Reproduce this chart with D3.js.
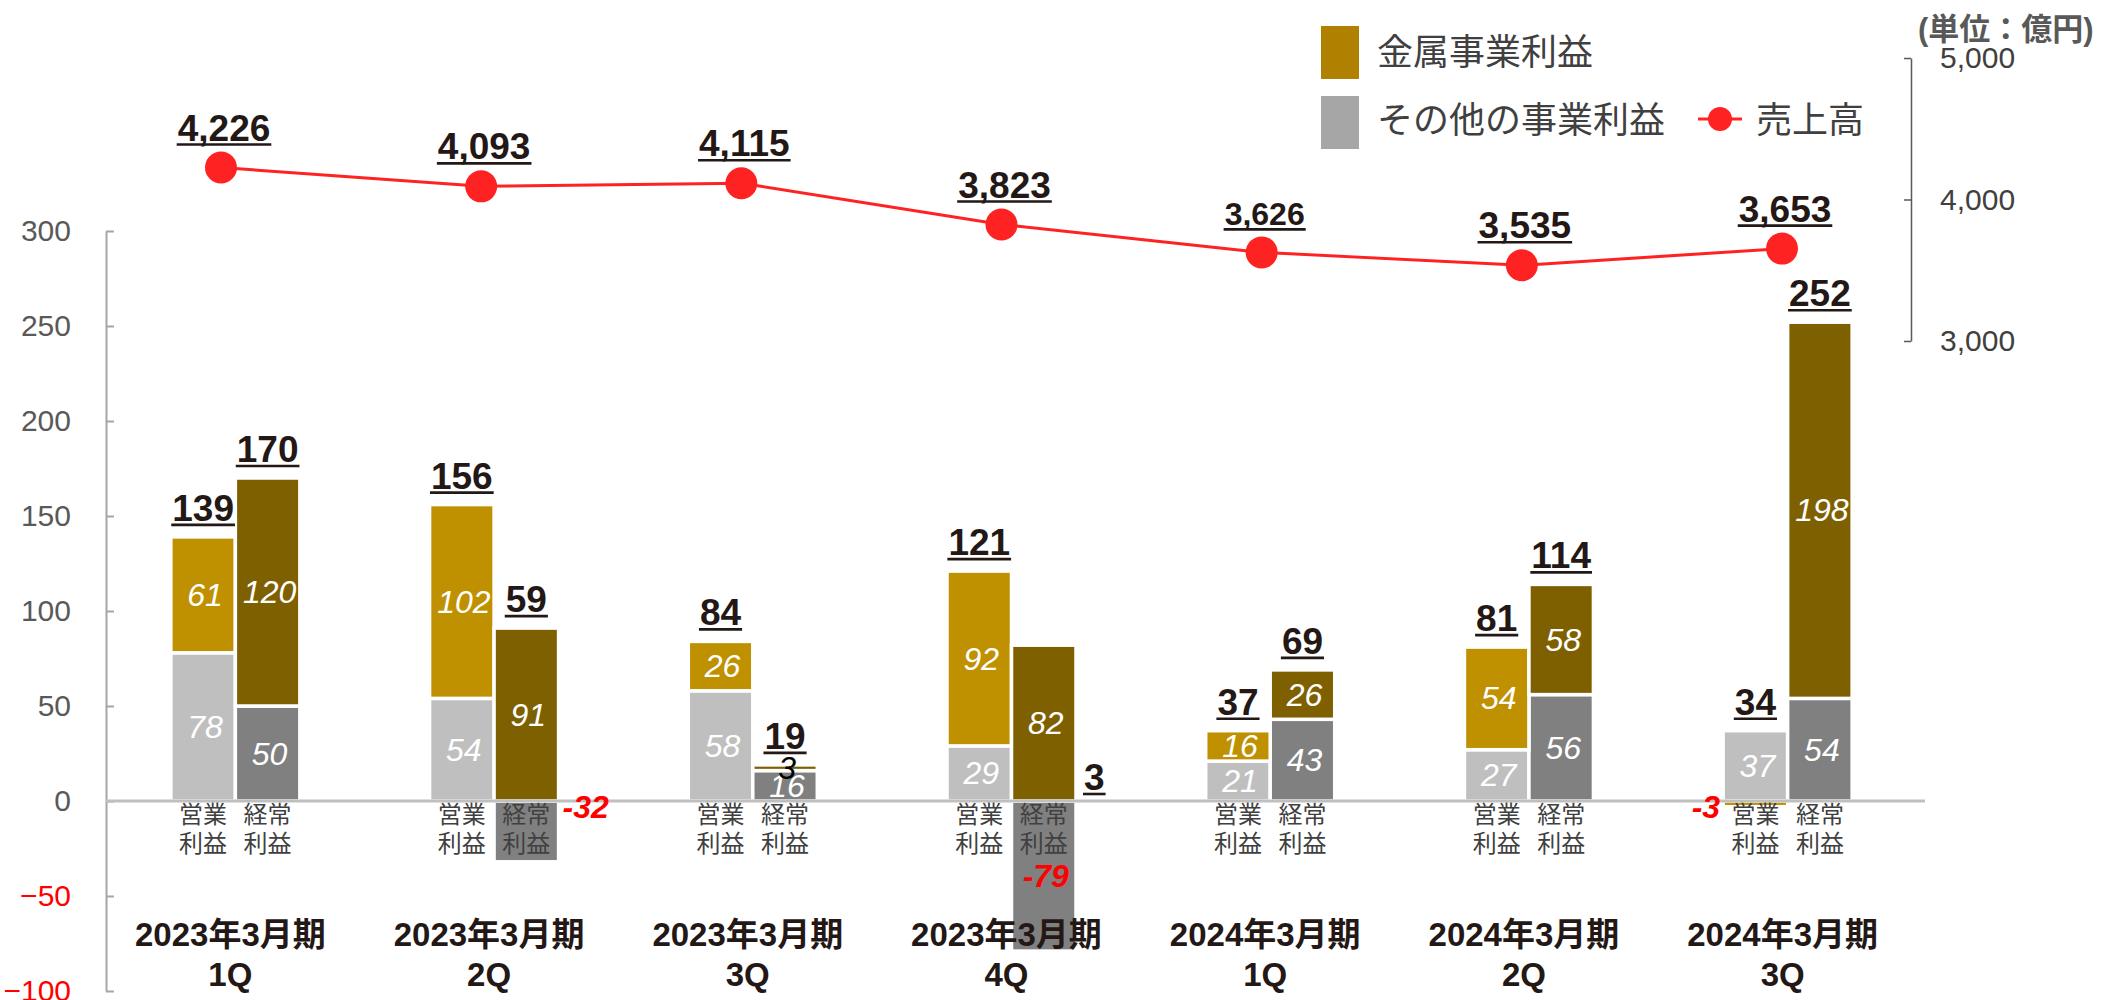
<!DOCTYPE html>
<html>
<head>
<meta charset="utf-8">
<script src="https://cdn.jsdelivr.net/npm/d3@7"></script>
<style>
  body { margin: 0; background: #fff; }
  svg { display: block; font-family: "Liberation Sans", Arial, "Noto Sans CJK JP", sans-serif; }
</style>
</head>
<body>
<div id="chart"></div>
<script>
(function() {
  // periods on the category axis
  const periods = ["2023年3月期", "2023年3月期", "2023年3月期", "2023年3月期", "2024年3月期", "2024年3月期", "2024年3月期"];
  const quarters = ["1Q", "2Q", "3Q", "4Q", "1Q", "2Q", "3Q"];
  const measures = ["営業利益", "経常利益"];
  const measureLines = [["営業", "利益"], ["経常", "利益"]];

  // profits (億円)
  const metalOperating = [61, 102, 26, 92, 16, 54, -3];
  const otherOperating = [78, 54, 58, 29, 21, 27, 37];
  const totalOperating = [139, 156, 84, 121, 37, 81, 34];
  const metalOrdinary = [120, 91, 3, 82, 26, 58, 198];
  const otherOrdinary = [50, -32, 16, -79, 43, 56, 54];
  const totalOrdinary = [170, 59, 19, 3, 69, 114, 252];

  // sales (億円), right axis
  const sales = [4226, 4093, 4115, 3823, 3626, 3535, 3653];

  const profitTicks = [-100, -50, 0, 50, 100, 150, 200, 250, 300];
  const salesTicks = [3000, 4000, 5000];
  const legendNames = ["金属事業利益", "その他の事業利益", "売上高"];
  const unitLabel = "(単位：億円)";

  const width = 2104, height = 1000;
  const ink = "#231815", red = "#ff2222";

  const colors = {
    "営業利益": { other: "#bfbfbf", metal: "#bf9000" },
    "経常利益": { other: "#808080", metal: "#7f6000" }
  };

  const svg = d3.select("#chart").append("svg")
      .attr("width", width)
      .attr("height", height);

  svg.append("rect").attr("width", width).attr("height", height).attr("fill", "#fff");

  var x0 = d3.scaleBand()
      .domain(d3.range(periods.length))
      .range([106, 1917]);

  var pairW = 129;
  var x1 = d3.scaleBand()
      .domain(measures)
      .range([0, pairW]);

  var y = d3.scaleLinear()
      .domain([-100, 300])
      .range([991, 231]);

  var y2 = d3.scaleLinear()
      .domain([3000, 5000])
      .range([341, 58]);

  var xLine = d3.scalePoint()
      .domain(d3.range(sales.length))
      .range([221, 1782]);

  const rows = [];
  periods.forEach((p, i) => {
    rows.push({ i, k: 0, m: measures[0], other: otherOperating[i], metal: metalOperating[i], total: totalOperating[i] });
    rows.push({ i, k: 1, m: measures[1], other: otherOrdinary[i], metal: metalOrdinary[i], total: totalOrdinary[i] });
  });

  const series = d3.stack()
      .keys(["other", "metal"])
      .offset(d3.stackOffsetDiverging)(rows);

  const barX = d => x0(d.i) + (x0.bandwidth() - pairW) / 2 + x1(d.m);
  const bw = x1.bandwidth();

  // left axis
  svg.append("g")
      .attr("class", "y axis")
      .attr("transform", `translate(${x0.range()[0]},0)`)
      .call(d3.axisLeft(y).tickValues(profitTicks).tickSizeInner(-8).tickSizeOuter(0).tickPadding(35))
      .call(g => g.select(".domain").attr("stroke", "#a6a6a6").attr("stroke-width", 2))
      .call(g => g.selectAll(".tick line").attr("stroke", "#a6a6a6").attr("stroke-width", 2))
      .call(g => g.selectAll(".tick text")
          .attr("font-size", 30)
          .attr("font-family", null)
          .attr("fill", d => d < 0 ? "#ff0000" : "#595959"));

  // right axis
  svg.append("g")
      .attr("class", "y2 axis")
      .attr("transform", "translate(1911,0)")
      .call(d3.axisRight(y2).tickValues(salesTicks).tickSizeInner(-7).tickSizeOuter(0).tickPadding(29).tickFormat(d3.format(",")))
      .call(g => g.select(".domain").attr("stroke", "#595959").attr("stroke-width", 1.5))
      .call(g => g.selectAll(".tick line").attr("stroke", "#595959").attr("stroke-width", 1.5))
      .call(g => g.selectAll(".tick text")
          .attr("font-size", 30)
          .attr("font-family", null)
          .attr("fill", "#404040"));

  svg.append("text")
      .attr("x", 1918)
      .attr("y", 40)
      .attr("font-size", 31)
      .attr("font-weight", "bold")
      .attr("fill", "#595959")
      .text(unitLabel);

  // stacked bars
  svg.append("g")
    .selectAll("g")
    .data(series)
    .join("g")
    .selectAll("rect")
    .data(s => s.map(d => Object.assign({ key: s.key }, d)))
    .join("rect")
      .attr("x", d => barX(d.data))
      .attr("width", bw)
      .attr("y", d => y(d[1]))
      .attr("height", d => y(d[0]) - y(d[1]))
      .attr("fill", d => colors[d.data.m][d.key])
      .attr("stroke", "#fff")
      .attr("stroke-width", 3.5);

  // zero line
  svg.append("line")
      .attr("x1", x0.range()[0])
      .attr("x2", x0.range()[1] + 8)
      .attr("y1", y(0))
      .attr("y2", y(0))
      .attr("stroke", "#bfbfbf")
      .attr("stroke-width", 3);

  // bar names under the zero line
  const names = svg.append("g")
    .selectAll("text")
    .data(rows)
    .join("text")
      .attr("text-anchor", "middle")
      .attr("font-size", 24)
      .attr("fill", "#404040");
  names.append("tspan")
      .attr("x", d => barX(d) + bw / 2)
      .attr("y", y(0) + 22)
      .text(d => measureLines[d.k][0]);
  names.append("tspan")
      .attr("x", d => barX(d) + bw / 2)
      .attr("y", y(0) + 51)
      .text(d => measureLines[d.k][1]);

  // segment values
  const segs = [];
  series.forEach(s => s.forEach(d => segs.push({ key: s.key, d, v: d.data[s.key] })));
  svg.append("g")
    .selectAll("text")
    .data(segs)
    .join("text")
      .attr("font-size", 32)
      .attr("font-style", "italic")
      .attr("font-weight", s => s.v < 0 ? "bold" : null)
      .attr("dominant-baseline", "central")
      .each(function(s) {
        const t = d3.select(this);
        const h = y(s.d[0]) - y(s.d[1]);
        const left = barX(s.d.data);
        if (s.v < 0 && h < 100) {
          // small negatives sit beside the bar
          t.attr("x", s.d.data.k === 0 ? left - 3 : left + bw + 4)
           .attr("y", y(0) + 6)
           .attr("text-anchor", s.d.data.k === 0 ? "end" : "start")
           .attr("fill", "#ff0000");
        } else {
          t.attr("x", left + bw / 2 + 2)
           .attr("y", y((s.d[0] + s.d[1]) / 2))
           .attr("text-anchor", "middle")
           .attr("fill", s.v < 0 ? "#ff0000" : h < 20 ? "#000" : "#fff");
        }
      })
      .text(s => s.v);

  // underlined label helper
  function underlined(g, x, yb, txt, size, anchor) {
    const t = g.append("text")
        .attr("x", x)
        .attr("y", yb)
        .attr("text-anchor", anchor)
        .attr("font-size", size)
        .attr("font-weight", "bold")
        .attr("fill", ink)
        .text(txt);
    const w = t.node().getComputedTextLength();
    const xs = anchor === "middle" ? x - w / 2 : x;
    g.append("line")
        .attr("x1", xs - 1)
        .attr("x2", xs + w + 1)
        .attr("y1", yb + 4)
        .attr("y2", yb + 4)
        .attr("stroke", ink)
        .attr("stroke-width", 2.6);
  }

  // totals
  const totals = svg.append("g");
  rows.forEach(d => {
    const top = Math.max(0, d.other) + Math.max(0, d.metal);
    if (d.total < 10) {
      underlined(totals, barX(d) + bw + 8, y(0) - 11, d3.format(",")(d.total), 37, "start");
    } else {
      underlined(totals, barX(d) + bw / 2, y(top) - 16, d3.format(",")(d.total), 37, "middle");
    }
  });

  // category labels
  const cats = svg.append("g")
    .selectAll("text")
    .data(periods)
    .join("text")
      .attr("text-anchor", "middle")
      .attr("font-size", 33)
      .attr("font-weight", "bold")
      .attr("fill", ink);
  cats.append("tspan")
      .attr("x", (d, i) => x0(i) + x0.bandwidth() / 2 - 5)
      .attr("y", y(0) + 145)
      .text(d => d);
  cats.append("tspan")
      .attr("x", (d, i) => x0(i) + x0.bandwidth() / 2 - 5)
      .attr("y", y(0) + 185)
      .text((d, i) => quarters[i]);

  // sales line
  var line = d3.line()
      .x((d, i) => xLine(i))
      .y(d => y2(d));

  svg.append("path")
      .datum(sales)
      .attr("fill", "none")
      .attr("stroke", red)
      .attr("stroke-width", 3)
      .attr("d", line);

  svg.append("g")
    .selectAll("circle")
    .data(sales)
    .join("circle")
      .attr("cx", (d, i) => xLine(i))
      .attr("cy", d => y2(d))
      .attr("r", 16)
      .attr("fill", red);

  const salesLabels = svg.append("g");
  sales.forEach((d, i) => {
    underlined(salesLabels, xLine(i) + 3, y2(d) - 27, d3.format(",")(d), i === 4 ? 32 : 37, "middle");
  });

  // legend
  const legend = svg.append("g");
  legend.append("rect")
      .attr("x", 1321).attr("y", 26).attr("width", 38).attr("height", 53)
      .attr("fill", "#b08000");
  legend.append("rect")
      .attr("x", 1321).attr("y", 96).attr("width", 38).attr("height", 53)
      .attr("fill", "#a6a6a6");
  legend.append("line")
      .attr("x1", 1698).attr("x2", 1742).attr("y1", 119).attr("y2", 119)
      .attr("stroke", red).attr("stroke-width", 3);
  legend.append("circle")
      .attr("cx", 1720).attr("cy", 119).attr("r", 12)
      .attr("fill", red);
  legend.selectAll("text.lg")
    .data(legendNames)
    .join("text")
      .attr("class", "lg")
      .attr("x", (d, i) => i < 2 ? 1377 : 1756)
      .attr("y", (d, i) => i === 0 ? 52 : 120)
      .attr("dominant-baseline", "central")
      .attr("font-size", 36)
      .attr("fill", "#404040")
      .text(d => d);
})();
</script>
</body>
</html>
